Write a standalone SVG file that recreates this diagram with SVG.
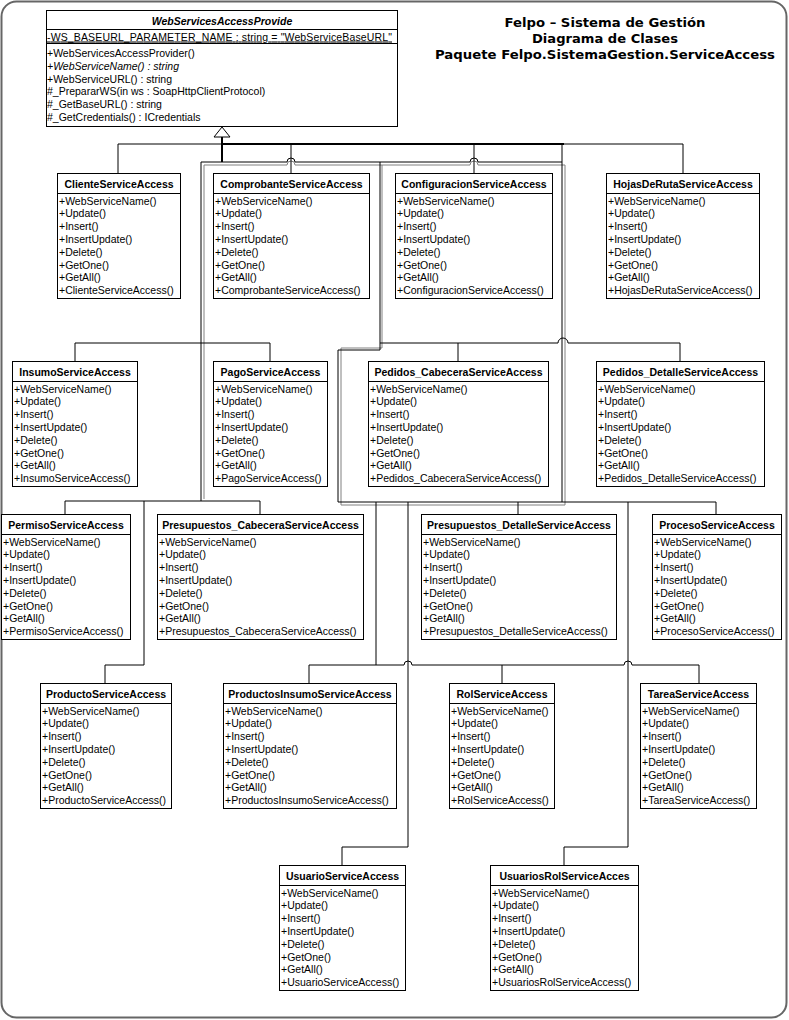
<svg xmlns="http://www.w3.org/2000/svg" width="789" height="1020" viewBox="0 0 789 1020">
<style>
.bg{fill:#fff}
.frame{fill:#fff;stroke:#666;stroke-width:2}
.box{fill:#fff;stroke:#000;stroke-width:1}
.sep{stroke:#000;stroke-width:1}
.hd{font-family:"Liberation Sans",Arial,sans-serif;font-size:10.5px;font-weight:bold;text-anchor:middle;fill:#000}
.m{font-family:"Liberation Sans",Arial,sans-serif;font-size:10.5px;fill:#000}
.it{font-style:italic}
.ttl{font-family:"DejaVu Sans",Verdana,sans-serif;font-size:12.5px;font-weight:bold;text-anchor:middle;fill:#000}
.c{fill:none;stroke:#000;stroke-width:1}
.c2{fill:none;stroke:#000;stroke-width:2}
.g{fill:none;stroke:#808080;stroke-width:1}
</style>
<rect class="bg" width="789" height="1020"/>
<rect class="frame" x="1.5" y="1.5" width="785" height="1016" rx="15" ry="15"/>

<g id="title">
<text class="ttl" x="605" y="27" textLength="201" lengthAdjust="spacingAndGlyphs">Felpo – Sistema de Gestión</text>
<text class="ttl" x="605" y="43" textLength="146" lengthAdjust="spacingAndGlyphs">Diagrama de Clases</text>
<text class="ttl" x="605" y="59" textLength="340" lengthAdjust="spacingAndGlyphs">Paquete Felpo.SistemaGestion.ServiceAccess</text>
</g>

<g id="connectors">
<path class="g" d="M204,499 V165 H287 a4,4 0 0 1 8,0 H382 V348 H341 V505 H565 V165 H478 a4,4 0 0 0 -8,0 H382"/>
<path class="c" d="M118,173 V144 H222"/>
<path class="c" d="M564,144 H683 V173"/>
<path class="c" d="M291,144 V173"/>
<path class="c" d="M474,144 V173"/>
<path class="c" d="M201,501 V162 H287 a4,4 0 0 1 8,0 H380 V350 H338 V502 H562 V162 H478 a4,4 0 0 0 -8,0 H380"/>
<path class="c" d="M562,162 V144"/>
<path class="c" d="M380,343 H558 a5,5 0 0 1 10,0 H680 V361"/>
<path class="c" d="M458,343 V361"/>
<path class="c" d="M75,361 V343 H270 V361"/>
<path class="c" d="M65,514 V501 H260 V514"/>
<path class="c" d="M144,501 V665 H105 V683"/>
<path class="c" d="M562,502 H716 V514"/>
<path class="c" d="M518,502 V514"/>
<path class="c" d="M376,502 V665 H309 V683"/>
<path class="c" d="M376,665 H404 a4,4 0 0 1 8,0 H624 a4,4 0 0 1 8,0 H699 V683"/>
<path class="c" d="M502,665 V683"/>
<path class="c" d="M408,502 V847 H342 V865"/>
<path class="c" d="M628,502 V847 H564 V865"/>
<path class="c2" d="M222,137 V162"/>
<path class="c2" d="M222,144 H564"/>
<polygon points="222,127 214,137 230,137" fill="#fff" stroke="#000" stroke-width="1"/>
</g>

<g id="WebServicesAccessProvide" transform="translate(46.5,10.5)">
<rect class="box" width="351" height="116"/>
<line class="sep" x1="0" y1="19" x2="351" y2="19"/>
<line class="sep" x1="0" y1="33" x2="351" y2="33"/>
<text class="hd it" x="175.5" y="14">WebServicesAccessProvide</text>
<text class="m" x="0.5" y="30" textLength="345" lengthAdjust="spacing" text-decoration="underline">-WS_BASEURL_PARAMETER_NAME : string = "WebServiceBaseURL"</text>
<text class="m"><tspan x="0.5" y="46.5">+WebServicesAccessProvider()</tspan><tspan x="0.5" dy="12.8" font-style="italic">+WebServiceName() : string</tspan><tspan x="0.5" dy="12.8">+WebServiceURL() : string</tspan><tspan x="0.5" dy="12.8">#_PrepararWS(in ws : SoapHttpClientProtocol)</tspan><tspan x="0.5" dy="12.8">#_GetBaseURL() : string</tspan><tspan x="0.5" dy="12.8">#_GetCredentials() : ICredentials</tspan></text>
</g>

<g id="ClienteServiceAccess" transform="translate(57.5,173.5)">
<rect class="box" width="123" height="125"/><line class="sep" x1="0" y1="20" x2="123" y2="20"/>
<text class="hd" x="61.5" y="14">ClienteServiceAccess</text>
<text class="m"><tspan x="1.5" y="31">+WebServiceName()</tspan><tspan x="1.5" dy="12.8">+Update()</tspan><tspan x="1.5" dy="12.8">+Insert()</tspan><tspan x="1.5" dy="12.8">+InsertUpdate()</tspan><tspan x="1.5" dy="12.8">+Delete()</tspan><tspan x="1.5" dy="12.8">+GetOne()</tspan><tspan x="1.5" dy="12.8">+GetAll()</tspan><tspan x="1.5" dy="12.8">+ClienteServiceAccess()</tspan></text>
</g>

<g id="ComprobanteServiceAccess" transform="translate(213.5,173.5)">
<rect class="box" width="156" height="125"/><line class="sep" x1="0" y1="20" x2="156" y2="20"/>
<text class="hd" x="78" y="14">ComprobanteServiceAccess</text>
<text class="m"><tspan x="1.5" y="31">+WebServiceName()</tspan><tspan x="1.5" dy="12.8">+Update()</tspan><tspan x="1.5" dy="12.8">+Insert()</tspan><tspan x="1.5" dy="12.8">+InsertUpdate()</tspan><tspan x="1.5" dy="12.8">+Delete()</tspan><tspan x="1.5" dy="12.8">+GetOne()</tspan><tspan x="1.5" dy="12.8">+GetAll()</tspan><tspan x="1.5" dy="12.8">+ComprobanteServiceAccess()</tspan></text>
</g>

<g id="ConfiguracionServiceAccess" transform="translate(395.5,173.5)">
<rect class="box" width="157" height="125"/><line class="sep" x1="0" y1="20" x2="157" y2="20"/>
<text class="hd" x="78.5" y="14">ConfiguracionServiceAccess</text>
<text class="m"><tspan x="1.5" y="31">+WebServiceName()</tspan><tspan x="1.5" dy="12.8">+Update()</tspan><tspan x="1.5" dy="12.8">+Insert()</tspan><tspan x="1.5" dy="12.8">+InsertUpdate()</tspan><tspan x="1.5" dy="12.8">+Delete()</tspan><tspan x="1.5" dy="12.8">+GetOne()</tspan><tspan x="1.5" dy="12.8">+GetAll()</tspan><tspan x="1.5" dy="12.8">+ConfiguracionServiceAccess()</tspan></text>
</g>

<g id="HojasDeRutaServiceAccess" transform="translate(606.5,173.5)">
<rect class="box" width="153" height="125"/><line class="sep" x1="0" y1="20" x2="153" y2="20"/>
<text class="hd" x="76.5" y="14">HojasDeRutaServiceAccess</text>
<text class="m"><tspan x="1.5" y="31">+WebServiceName()</tspan><tspan x="1.5" dy="12.8">+Update()</tspan><tspan x="1.5" dy="12.8">+Insert()</tspan><tspan x="1.5" dy="12.8">+InsertUpdate()</tspan><tspan x="1.5" dy="12.8">+Delete()</tspan><tspan x="1.5" dy="12.8">+GetOne()</tspan><tspan x="1.5" dy="12.8">+GetAll()</tspan><tspan x="1.5" dy="12.8">+HojasDeRutaServiceAccess()</tspan></text>
</g>

<g id="InsumoServiceAccess" transform="translate(12.5,361.5)">
<rect class="box" width="125" height="125"/><line class="sep" x1="0" y1="20" x2="125" y2="20"/>
<text class="hd" x="62.5" y="14">InsumoServiceAccess</text>
<text class="m"><tspan x="1.5" y="31">+WebServiceName()</tspan><tspan x="1.5" dy="12.8">+Update()</tspan><tspan x="1.5" dy="12.8">+Insert()</tspan><tspan x="1.5" dy="12.8">+InsertUpdate()</tspan><tspan x="1.5" dy="12.8">+Delete()</tspan><tspan x="1.5" dy="12.8">+GetOne()</tspan><tspan x="1.5" dy="12.8">+GetAll()</tspan><tspan x="1.5" dy="12.8">+InsumoServiceAccess()</tspan></text>
</g>

<g id="PagoServiceAccess" transform="translate(213.5,361.5)">
<rect class="box" width="114" height="125"/><line class="sep" x1="0" y1="20" x2="114" y2="20"/>
<text class="hd" x="57" y="14">PagoServiceAccess</text>
<text class="m"><tspan x="1.5" y="31">+WebServiceName()</tspan><tspan x="1.5" dy="12.8">+Update()</tspan><tspan x="1.5" dy="12.8">+Insert()</tspan><tspan x="1.5" dy="12.8">+InsertUpdate()</tspan><tspan x="1.5" dy="12.8">+Delete()</tspan><tspan x="1.5" dy="12.8">+GetOne()</tspan><tspan x="1.5" dy="12.8">+GetAll()</tspan><tspan x="1.5" dy="12.8">+PagoServiceAccess()</tspan></text>
</g>

<g id="Pedidos_CabeceraServiceAccess" transform="translate(368.5,361.5)">
<rect class="box" width="180" height="125"/><line class="sep" x1="0" y1="20" x2="180" y2="20"/>
<text class="hd" x="90" y="14">Pedidos_CabeceraServiceAccess</text>
<text class="m"><tspan x="1.5" y="31">+WebServiceName()</tspan><tspan x="1.5" dy="12.8">+Update()</tspan><tspan x="1.5" dy="12.8">+Insert()</tspan><tspan x="1.5" dy="12.8">+InsertUpdate()</tspan><tspan x="1.5" dy="12.8">+Delete()</tspan><tspan x="1.5" dy="12.8">+GetOne()</tspan><tspan x="1.5" dy="12.8">+GetAll()</tspan><tspan x="1.5" dy="12.8">+Pedidos_CabeceraServiceAccess()</tspan></text>
</g>

<g id="Pedidos_DetalleServiceAccess" transform="translate(596.5,361.5)">
<rect class="box" width="168" height="125"/><line class="sep" x1="0" y1="20" x2="168" y2="20"/>
<text class="hd" x="84" y="14">Pedidos_DetalleServiceAccess</text>
<text class="m"><tspan x="1.5" y="31">+WebServiceName()</tspan><tspan x="1.5" dy="12.8">+Update()</tspan><tspan x="1.5" dy="12.8">+Insert()</tspan><tspan x="1.5" dy="12.8">+InsertUpdate()</tspan><tspan x="1.5" dy="12.8">+Delete()</tspan><tspan x="1.5" dy="12.8">+GetOne()</tspan><tspan x="1.5" dy="12.8">+GetAll()</tspan><tspan x="1.5" dy="12.8">+Pedidos_DetalleServiceAccess()</tspan></text>
</g>

<g id="PermisoServiceAccess" transform="translate(1.5,514.5)">
<rect class="box" width="129" height="125"/><line class="sep" x1="0" y1="20" x2="129" y2="20"/>
<text class="hd" x="64.5" y="14">PermisoServiceAccess</text>
<text class="m"><tspan x="1.5" y="31">+WebServiceName()</tspan><tspan x="1.5" dy="12.8">+Update()</tspan><tspan x="1.5" dy="12.8">+Insert()</tspan><tspan x="1.5" dy="12.8">+InsertUpdate()</tspan><tspan x="1.5" dy="12.8">+Delete()</tspan><tspan x="1.5" dy="12.8">+GetOne()</tspan><tspan x="1.5" dy="12.8">+GetAll()</tspan><tspan x="1.5" dy="12.8">+PermisoServiceAccess()</tspan></text>
</g>

<g id="Presupuestos_CabeceraServiceAccess" transform="translate(157.5,514.5)">
<rect class="box" width="206" height="125"/><line class="sep" x1="0" y1="20" x2="206" y2="20"/>
<text class="hd" x="103" y="14">Presupuestos_CabeceraServiceAccess</text>
<text class="m"><tspan x="1.5" y="31">+WebServiceName()</tspan><tspan x="1.5" dy="12.8">+Update()</tspan><tspan x="1.5" dy="12.8">+Insert()</tspan><tspan x="1.5" dy="12.8">+InsertUpdate()</tspan><tspan x="1.5" dy="12.8">+Delete()</tspan><tspan x="1.5" dy="12.8">+GetOne()</tspan><tspan x="1.5" dy="12.8">+GetAll()</tspan><tspan x="1.5" dy="12.8">+Presupuestos_CabeceraServiceAccess()</tspan></text>
</g>

<g id="Presupuestos_DetalleServiceAccess" transform="translate(421.5,514.5)">
<rect class="box" width="195" height="125"/><line class="sep" x1="0" y1="20" x2="195" y2="20"/>
<text class="hd" x="97.5" y="14">Presupuestos_DetalleServiceAccess</text>
<text class="m"><tspan x="1.5" y="31">+WebServiceName()</tspan><tspan x="1.5" dy="12.8">+Update()</tspan><tspan x="1.5" dy="12.8">+Insert()</tspan><tspan x="1.5" dy="12.8">+InsertUpdate()</tspan><tspan x="1.5" dy="12.8">+Delete()</tspan><tspan x="1.5" dy="12.8">+GetOne()</tspan><tspan x="1.5" dy="12.8">+GetAll()</tspan><tspan x="1.5" dy="12.8">+Presupuestos_DetalleServiceAccess()</tspan></text>
</g>

<g id="ProcesoServiceAccess" transform="translate(652.5,514.5)">
<rect class="box" width="129" height="125"/><line class="sep" x1="0" y1="20" x2="129" y2="20"/>
<text class="hd" x="64.5" y="14">ProcesoServiceAccess</text>
<text class="m"><tspan x="1.5" y="31">+WebServiceName()</tspan><tspan x="1.5" dy="12.8">+Update()</tspan><tspan x="1.5" dy="12.8">+Insert()</tspan><tspan x="1.5" dy="12.8">+InsertUpdate()</tspan><tspan x="1.5" dy="12.8">+Delete()</tspan><tspan x="1.5" dy="12.8">+GetOne()</tspan><tspan x="1.5" dy="12.8">+GetAll()</tspan><tspan x="1.5" dy="12.8">+ProcesoServiceAccess()</tspan></text>
</g>

<g id="ProductoServiceAccess" transform="translate(40.5,683.5)">
<rect class="box" width="131" height="125"/><line class="sep" x1="0" y1="20" x2="131" y2="20"/>
<text class="hd" x="65.5" y="14">ProductoServiceAccess</text>
<text class="m"><tspan x="1.5" y="31">+WebServiceName()</tspan><tspan x="1.5" dy="12.8">+Update()</tspan><tspan x="1.5" dy="12.8">+Insert()</tspan><tspan x="1.5" dy="12.8">+InsertUpdate()</tspan><tspan x="1.5" dy="12.8">+Delete()</tspan><tspan x="1.5" dy="12.8">+GetOne()</tspan><tspan x="1.5" dy="12.8">+GetAll()</tspan><tspan x="1.5" dy="12.8">+ProductoServiceAccess()</tspan></text>
</g>

<g id="ProductosInsumoServiceAccess" transform="translate(223.5,683.5)">
<rect class="box" width="173" height="125"/><line class="sep" x1="0" y1="20" x2="173" y2="20"/>
<text class="hd" x="86.5" y="14">ProductosInsumoServiceAccess</text>
<text class="m"><tspan x="1.5" y="31">+WebServiceName()</tspan><tspan x="1.5" dy="12.8">+Update()</tspan><tspan x="1.5" dy="12.8">+Insert()</tspan><tspan x="1.5" dy="12.8">+InsertUpdate()</tspan><tspan x="1.5" dy="12.8">+Delete()</tspan><tspan x="1.5" dy="12.8">+GetOne()</tspan><tspan x="1.5" dy="12.8">+GetAll()</tspan><tspan x="1.5" dy="12.8">+ProductosInsumoServiceAccess()</tspan></text>
</g>

<g id="RolServiceAccess" transform="translate(449.5,683.5)">
<rect class="box" width="105" height="125"/><line class="sep" x1="0" y1="20" x2="105" y2="20"/>
<text class="hd" x="52.5" y="14">RolServiceAccess</text>
<text class="m"><tspan x="1.5" y="31">+WebServiceName()</tspan><tspan x="1.5" dy="12.8">+Update()</tspan><tspan x="1.5" dy="12.8">+Insert()</tspan><tspan x="1.5" dy="12.8">+InsertUpdate()</tspan><tspan x="1.5" dy="12.8">+Delete()</tspan><tspan x="1.5" dy="12.8">+GetOne()</tspan><tspan x="1.5" dy="12.8">+GetAll()</tspan><tspan x="1.5" dy="12.8">+RolServiceAccess()</tspan></text>
</g>

<g id="TareaServiceAccess" transform="translate(640.5,683.5)">
<rect class="box" width="116" height="125"/><line class="sep" x1="0" y1="20" x2="116" y2="20"/>
<text class="hd" x="58" y="14">TareaServiceAccess</text>
<text class="m"><tspan x="1.5" y="31">+WebServiceName()</tspan><tspan x="1.5" dy="12.8">+Update()</tspan><tspan x="1.5" dy="12.8">+Insert()</tspan><tspan x="1.5" dy="12.8">+InsertUpdate()</tspan><tspan x="1.5" dy="12.8">+Delete()</tspan><tspan x="1.5" dy="12.8">+GetOne()</tspan><tspan x="1.5" dy="12.8">+GetAll()</tspan><tspan x="1.5" dy="12.8">+TareaServiceAccess()</tspan></text>
</g>

<g id="UsuarioServiceAccess" transform="translate(279.5,865.5)">
<rect class="box" width="126" height="125"/><line class="sep" x1="0" y1="20" x2="126" y2="20"/>
<text class="hd" x="63" y="14">UsuarioServiceAccess</text>
<text class="m"><tspan x="1.5" y="31">+WebServiceName()</tspan><tspan x="1.5" dy="12.8">+Update()</tspan><tspan x="1.5" dy="12.8">+Insert()</tspan><tspan x="1.5" dy="12.8">+InsertUpdate()</tspan><tspan x="1.5" dy="12.8">+Delete()</tspan><tspan x="1.5" dy="12.8">+GetOne()</tspan><tspan x="1.5" dy="12.8">+GetAll()</tspan><tspan x="1.5" dy="12.8">+UsuarioServiceAccess()</tspan></text>
</g>

<g id="UsuariosRolServiceAcces" transform="translate(490.5,865.5)">
<rect class="box" width="148" height="125"/><line class="sep" x1="0" y1="20" x2="148" y2="20"/>
<text class="hd" x="74" y="14">UsuariosRolServiceAcces</text>
<text class="m"><tspan x="1.5" y="31">+WebServiceName()</tspan><tspan x="1.5" dy="12.8">+Update()</tspan><tspan x="1.5" dy="12.8">+Insert()</tspan><tspan x="1.5" dy="12.8">+InsertUpdate()</tspan><tspan x="1.5" dy="12.8">+Delete()</tspan><tspan x="1.5" dy="12.8">+GetOne()</tspan><tspan x="1.5" dy="12.8">+GetAll()</tspan><tspan x="1.5" dy="12.8">+UsuariosRolServiceAccess()</tspan></text>
</g>
</svg>
